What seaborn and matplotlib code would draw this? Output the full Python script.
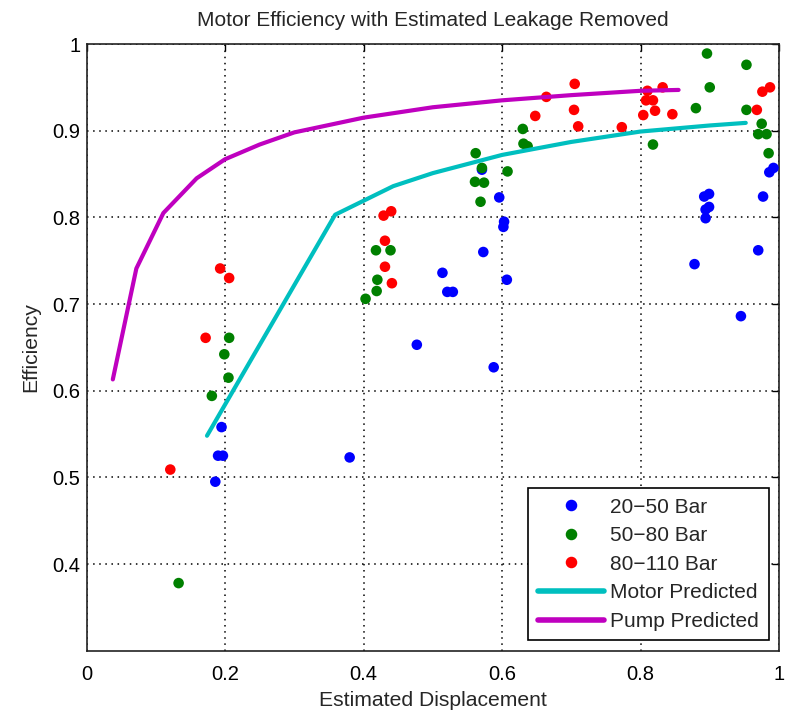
import matplotlib
matplotlib.use("Agg")
import matplotlib.pyplot as plt
import seaborn as sns
import pandas as pd
from matplotlib.lines import Line2D

# ---- data ----
blue_x = [0.477, 0.195, 0.190, 0.197, 0.380, 0.186, 0.571, 0.596, 0.603, 0.602, 0.573, 0.514, 0.521, 0.529,
          0.607, 0.588, 0.899, 0.892, 0.899, 0.894, 0.894, 0.878, 0.970, 0.945, 0.977, 0.986, 0.992]
blue_y = [0.653, 0.558, 0.525, 0.525, 0.523, 0.495, 0.855, 0.823, 0.795, 0.789, 0.760, 0.736, 0.714, 0.714,
          0.728, 0.627, 0.827, 0.824, 0.812, 0.809, 0.799, 0.746, 0.762, 0.686, 0.824, 0.852, 0.857]

green_x = [0.896, 0.953, 0.900, 0.880, 0.953, 0.630, 0.631, 0.637, 0.562, 0.571, 0.608, 0.561, 0.574, 0.569,
           0.818, 0.975, 0.970, 0.982, 0.985, 0.418, 0.439, 0.420, 0.419, 0.403, 0.206, 0.199, 0.205, 0.181, 0.133]
green_y = [0.989, 0.976, 0.950, 0.926, 0.924, 0.902, 0.885, 0.882, 0.874, 0.857, 0.853, 0.841, 0.840, 0.818,
           0.884, 0.908, 0.896, 0.896, 0.874, 0.762, 0.762, 0.728, 0.715, 0.706, 0.661, 0.642, 0.615, 0.594, 0.378]

red_x = [0.193, 0.206, 0.429, 0.440, 0.431, 0.431, 0.441, 0.172, 0.121, 0.705, 0.664, 0.648, 0.704, 0.710,
         0.773, 0.810, 0.832, 0.808, 0.818, 0.821, 0.804, 0.846, 0.968, 0.976, 0.987]
red_y = [0.741, 0.730, 0.802, 0.807, 0.773, 0.743, 0.724, 0.661, 0.509, 0.954, 0.939, 0.917, 0.924, 0.905,
         0.904, 0.946, 0.950, 0.935, 0.935, 0.923, 0.918, 0.919, 0.924, 0.945, 0.950]

motor_x = [0.174, 0.359, 0.443, 0.500, 0.600, 0.700, 0.800, 0.900, 0.952]
motor_y = [0.548, 0.803, 0.836, 0.851, 0.872, 0.887, 0.899, 0.906, 0.909]

pump_x = [0.038, 0.072, 0.111, 0.159, 0.200, 0.250, 0.300, 0.400, 0.500, 0.600, 0.700, 0.800, 0.855]
pump_y = [0.613, 0.741, 0.805, 0.845, 0.867, 0.884, 0.898, 0.915, 0.927, 0.935, 0.941, 0.946, 0.947]

groups = ["20\u221250 Bar", "50\u221280 Bar", "80\u2212110 Bar"]
group_colors = ["#0000ff", "#008000", "#ff0000"]
motor_label = "Motor Predicted"
pump_label = "Pump Predicted"
motor_color = "#00bfbf"
pump_color = "#bf00bf"

xticks = [0, 0.2, 0.4, 0.6, 0.8, 1]
xticklabels = ["0", "0.2", "0.4", "0.6", "0.8", "1"]
yticks = [0.4, 0.5, 0.6, 0.7, 0.8, 0.9, 1.0]
yticklabels = ["0.4", "0.5", "0.6", "0.7", "0.8", "0.9", "1"]

# ---- build frame ----
pts = pd.DataFrame({
    "x": blue_x + green_x + red_x,
    "y": blue_y + green_y + red_y,
    "group": [groups[0]] * len(blue_x) + [groups[1]] * len(green_x) + [groups[2]] * len(red_x),
})

sns.set_theme(style="white")
plt.rcParams["font.family"] = ["Liberation Sans", "DejaVu Sans"]

fig = plt.figure(figsize=(7.89, 7.14), dpi=100)
ax = fig.add_axes([86.5 / 789, 1 - 650.7 / 714, (779 - 86.5) / 789, (650.7 - 44) / 714])

sns.scatterplot(data=pts, x="x", y="y", hue="group", hue_order=groups,
                palette=dict(zip(groups, group_colors)), s=58, linewidth=0,
                ax=ax, legend=False, zorder=3)
sns.lineplot(x=motor_x, y=motor_y, color=motor_color, lw=3, sort=False,
             estimator=None, ax=ax, zorder=4)
sns.lineplot(x=pump_x, y=pump_y, color=pump_color, lw=3, sort=False,
             estimator=None, ax=ax, zorder=4)

ax.set_xlim(0, 1)
ax.set_ylim(0.3, 1)
ax.set_xticks(xticks)
ax.set_xticklabels(xticklabels)
ax.set_yticks(yticks)
ax.set_yticklabels(yticklabels)

ax.grid(True, color="black", linestyle=(0, (1, 3)), linewidth=1.1)
ax.set_axisbelow(True)
ax.tick_params(direction="in", length=5, width=1, top=True, right=True,
               labelsize=14.5, colors="black")
ax.tick_params(axis="x", pad=10)
ax.tick_params(axis="y", pad=4.5)
for sp in ax.spines.values():
    sp.set_visible(True)
    sp.set_color("#222222")
    sp.set_linewidth(1.2)

ax.set_xlabel("Estimated Displacement", fontsize=15.2, labelpad=5)
ax.set_ylabel("Efficiency", fontsize=15.2, labelpad=9)
ax.set_title("Motor Efficiency with Estimated Leakage Removed", fontsize=15, pad=13)

handles = [Line2D([], [], marker="o", linestyle="none", color=c, markersize=7.3) for c in group_colors]
handles += [Line2D([], [], color=motor_color, lw=4), Line2D([], [], color=pump_color, lw=4)]
labels = groups + [motor_label, pump_label]
leg = ax.legend(handles, labels, loc="lower right", fontsize=15, frameon=True,
                fancybox=False, edgecolor="black", framealpha=1, handlelength=3.2,
                labelspacing=0.46, borderaxespad=0.5, borderpad=0.45, handletextpad=0.3)
leg.get_frame().set_linewidth(1.2)
leg.set_zorder(10)

fig.savefig("out.png", dpi=100)
